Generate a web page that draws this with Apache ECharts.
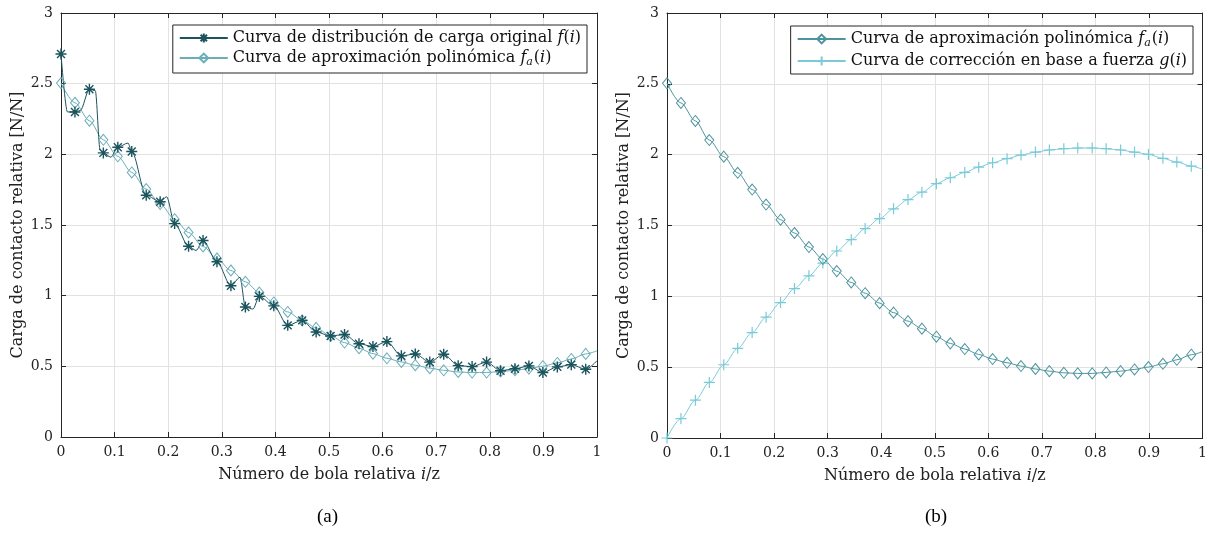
<!DOCTYPE html>
<html>
<head>
<meta charset="utf-8">
<script src="https://cdn.jsdelivr.net/npm/echarts@6/dist/echarts.min.js"></script>
<style>
  html, body { margin: 0; padding: 0; background: #ffffff; }
  #chart { width: 1210px; height: 533px; }
</style>
</head>
<body>
<div id="chart"></div>
<script>
// Relative ball position i/z of every marked ball
const ballX = [0, 0.026, 0.053, 0.079, 0.106, 0.132, 0.159, 0.185, 0.212, 0.238,
  0.265, 0.291, 0.317, 0.344, 0.370, 0.397, 0.423, 0.450, 0.476, 0.503,
  0.529, 0.556, 0.582, 0.608, 0.635, 0.661, 0.688, 0.714, 0.741, 0.767,
  0.794, 0.820, 0.847, 0.873, 0.899, 0.926, 0.952, 0.979];

// Original load distribution f(i) at each ball
const fY = [2.71, 2.30, 2.46, 2.01, 2.05, 2.02, 1.71, 1.665, 1.51, 1.35,
  1.39, 1.24, 1.07, 0.92, 0.995, 0.928, 0.79, 0.825, 0.743, 0.715,
  0.725, 0.66, 0.64, 0.675, 0.574, 0.587, 0.53, 0.586, 0.505, 0.498,
  0.53, 0.469, 0.483, 0.503, 0.456, 0.496, 0.512, 0.479];
// Extra points of the f(i) trace between balls (no marker)
const fKnotX = [0.012, 0.036, 0.064, 0.073, 0.093, 0.125, 0.197, 0.252, 0.334, 0.358, 1];
const fKnotY = [2.30, 2.31, 2.45, 2.03, 1.98, 2.08, 1.70, 1.32, 1.13, 0.905, 0.54];

// Polynomial approximation fa(i)
const faY = [2.504, 2.365, 2.238, 2.103, 1.986, 1.872, 1.754, 1.648, 1.541, 1.447,
  1.348, 1.263, 1.178, 1.098, 1.022, 0.952, 0.885, 0.825, 0.772, 0.715,
  0.668, 0.628, 0.590, 0.557, 0.531, 0.508, 0.487, 0.472, 0.460, 0.456,
  0.456, 0.463, 0.472, 0.484, 0.501, 0.524, 0.552, 0.588];
const faEnd = 0.61;

// Force-based correction curve g(i)
const gY = [0, 0.137, 0.267, 0.392, 0.517, 0.633, 0.744, 0.853, 0.956, 1.055,
  1.145, 1.235, 1.320, 1.400, 1.478, 1.549, 1.618, 1.683, 1.735, 1.795,
  1.837, 1.875, 1.912, 1.943, 1.972, 1.997, 2.018, 2.033, 2.042, 2.047,
  2.047, 2.042, 2.033, 2.018, 2.002, 1.974, 1.948, 1.919];
const gEnd = 1.896;

const xTicks = { min: 0, max: 1, interval: 0.1 };
const yTicks = { min: 0, max: 3, interval: 0.5 };

const FONT = 'DejaVu Serif';
const AX = '#262626';
const TXT = '#222222';
const GRID_C = '#e2e2e2';
const C_F = '#1b545d';
const C_FA_A = '#6aaeb8';
const C_FA_B = '#4d959e';
const C_G = '#79cbd8';

const STAR = 'path://M0,-1L0,1M-1,0L1,0M-0.72,-0.72L0.72,0.72M-0.72,0.72L0.72,-0.72';
const PLUS = 'path://M0,-1L0,1M-1,0L1,0';

const FS = 16;
const rich = {
  n: { fontFamily: FONT, fontSize: FS, color: '#111', lineHeight: 20 },
  m: { fontFamily: FONT, fontSize: FS, fontStyle: 'italic', color: '#111', lineHeight: 20 },
  s: { fontFamily: FONT, fontSize: 11, fontStyle: 'italic', color: '#111',
       lineHeight: 20, verticalAlign: 'bottom', padding: [6, 1, 0, 0] }
};
const axisRich = {
  n: { fontFamily: FONT, fontSize: FS, color: TXT },
  m: { fontFamily: FONT, fontSize: FS, fontStyle: 'italic', color: TXT }
};

const legendText = {
  f: '{n|Curva de distribución de carga original }{m|f}{n|(}{m|i}{n|)}',
  faA: '{n|Curva de aproximación polinómica }{m|f}{s|a}{n|(}{m|i}{n|)}',
  faB: '{n|Curva de aproximación polinómica }{m|f}{s|a}{n|(}{m|i}{n|)}',
  g: '{n|Curva de corrección en base a fuerza }{m|g}{n|(}{m|i}{n|)}'
};

// marked points followed by an unmarked end point at x = 1
function marked(ys, end) {
  const d = ballX.map((x, i) => ({ value: [x, ys[i]] }));
  d.push({ value: [1, end], symbol: 'none' });
  return d;
}
function fTrace() {
  const d = ballX.map((x, i) => ({ value: [x, fY[i]] }));
  fKnotX.forEach((x, i) => d.push({ value: [x, fKnotY[i]], symbol: 'none' }));
  d.sort((a, b) => a.value[0] - b.value[0]);
  return d;
}

function xAxes(gi) {
  const base = {
    type: 'value', gridIndex: gi, ...xTicks,
    axisLine: { show: true, onZero: false, lineStyle: { color: AX, width: 1 } },
    axisTick: { show: true, inside: true, length: 5, lineStyle: { color: AX } }
  };
  return [
    { ...base, position: 'bottom',
      axisLabel: { color: TXT, fontFamily: FONT, fontSize: 14, margin: 8 },
      splitLine: { show: true, lineStyle: { color: GRID_C, width: 1 } },
      name: '{n|Número de bola relativa }{m|i}{n|/z}',
      nameLocation: 'middle', nameGap: 30,
      nameTextStyle: { rich: axisRich } },
    { ...base, position: 'top', axisLabel: { show: false }, splitLine: { show: false } }
  ];
}
function yAxes(gi) {
  const base = {
    type: 'value', gridIndex: gi, ...yTicks,
    axisLine: { show: true, onZero: false, lineStyle: { color: AX, width: 1 } },
    axisTick: { show: true, inside: true, length: 5, lineStyle: { color: AX } }
  };
  return [
    { ...base, position: 'left',
      axisLabel: { color: TXT, fontFamily: FONT, fontSize: 14, margin: 8 },
      splitLine: { show: true, lineStyle: { color: GRID_C, width: 1 } },
      name: '{n|Carga de contacto relativa [N/N]}',
      nameLocation: 'middle', nameGap: 35, nameRotate: 90,
      nameTextStyle: { rich: axisRich } },
    { ...base, position: 'right', axisLabel: { show: false }, splitLine: { show: false } }
  ];
}

function legend(names, right, top) {
  return {
    data: names, orient: 'vertical', right: right, top: top,
    itemWidth: 48, itemHeight: 11, itemGap: 4,
    padding: [5, 6, 5, 6],
    backgroundColor: '#ffffff', borderColor: AX, borderWidth: 1,
    formatter: name => legendText[name],
    textStyle: { fontFamily: FONT, fontSize: FS, color: '#111', rich: rich }
  };
}

const option = {
  animation: false,
  backgroundColor: '#ffffff',
  grid: [
    { left: 61, top: 13, width: 536, height: 424 },
    { left: 667, top: 13, width: 537, height: 425 }
  ],
  xAxis: [...xAxes(0), ...xAxes(1)],
  yAxis: [...yAxes(0), ...yAxes(1)],
  legend: [legend(['f', 'faA'], 623, 25), legend(['faB', 'g'], 17, 26)],
  series: [
    { name: 'faA', type: 'line', xAxisIndex: 0, yAxisIndex: 0,
      data: marked(faY, faEnd), smooth: 0.3, smoothMonotone: 'x',
      symbol: 'diamond', symbolSize: [9, 11], showAllSymbol: true,
      lineStyle: { color: C_FA_A, width: 1 },
      itemStyle: { color: 'none', borderColor: C_FA_A, borderWidth: 1 } },
    { name: 'f', type: 'line', xAxisIndex: 0, yAxisIndex: 0,
      data: fTrace(), smooth: 0.3, smoothMonotone: 'x',
      symbol: STAR, symbolSize: 11, showAllSymbol: true,
      lineStyle: { color: C_F, width: 1 },
      itemStyle: { color: 'none', borderColor: C_F, borderWidth: 1.4 } },
    { name: 'g', type: 'line', xAxisIndex: 2, yAxisIndex: 2,
      data: marked(gY, gEnd), smooth: 0.3, smoothMonotone: 'x',
      symbol: PLUS, symbolSize: 11, showAllSymbol: true,
      lineStyle: { color: C_G, width: 1 },
      itemStyle: { color: 'none', borderColor: C_G, borderWidth: 1.2 } },
    { name: 'faB', type: 'line', xAxisIndex: 2, yAxisIndex: 2,
      data: marked(faY, faEnd), smooth: 0.3, smoothMonotone: 'x',
      symbol: 'diamond', symbolSize: [9, 11], showAllSymbol: true,
      lineStyle: { color: C_FA_B, width: 1 },
      itemStyle: { color: 'none', borderColor: C_FA_B, borderWidth: 1 } }
  ],
  graphic: [
    { type: 'text', left: 317, top: 508,
      style: { text: '(a)', font: '19px "Liberation Serif"', fill: '#000' } },
    { type: 'text', left: 925, top: 508,
      style: { text: '(b)', font: '19px "Liberation Serif"', fill: '#000' } }
  ]
};

const chart = echarts.init(document.getElementById('chart'), null, { renderer: 'canvas' });
chart.setOption(option);
</script>
</body>
</html>
